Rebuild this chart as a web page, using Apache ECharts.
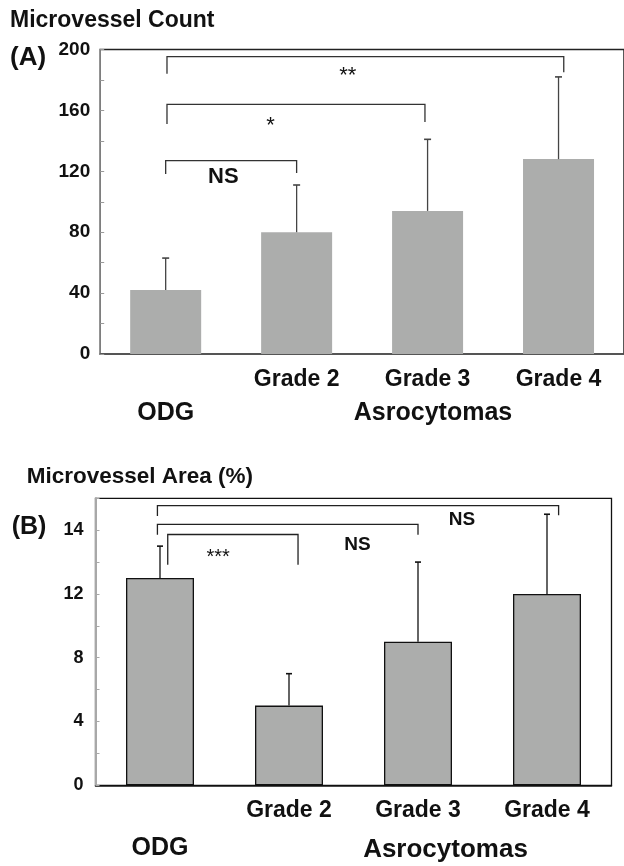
<!DOCTYPE html>
<html>
<head>
<meta charset="utf-8">
<script src="https://cdn.jsdelivr.net/npm/echarts@6/dist/echarts.min.js"></script>
<style>
html, body { margin: 0; padding: 0; background: #fff; }
#chart { width: 624px; height: 866px; }
</style>
</head>
<body>
<div id="chart"></div>
<script>
// values
var categories = ['ODG', 'Grade 2', 'Grade 3', 'Grade 4'];
var groupLabel = 'Asrocytomas';

var countMean = [42, 80, 94, 128];
var countSd = [21, 31, 47, 54];
var countTicks = [0, 40, 80, 120, 160, 200];

var areaMean = [13, 5, 9, 12];
var areaSd = [2, 2, 5, 5];
var areaTickLabels = ['0', '4', '8', '12', '14'];   // the top one is printed "14" in the figure

// brackets: [from, to, top, left leg end, right leg end] (category units / axis units)
var countBrackets = [[0, 1, 127, 118.2, 118.9], [0.01, 1.98, 164, 151, 152.4], [0.01, 3.04, 195.3, 184, 185]];
var countMarks = ['NS', '*', '**'];
var countMarkPos = [[0.44, 116.3], [0.80, 149.6], [1.39, 182.6]];

var areaBrackets = [[0.06, 1.07, 15.73, 13.84, 13.84], [-0.02, 2.0, 16.36, 15.71, 15.71], [-0.02, 3.09, 17.54, 16.89, 16.93]];
var areaMarks = ['***', 'NS', 'NS'];
var areaMarkPos = [[0.45, 14.31], [1.53, 15.06], [2.34, 16.68]];

var FONT = '"Liberation Sans", Arial, Helvetica, sans-serif';
var chart = echarts.init(document.getElementById('chart'));

function errorSeries(xi, mean, sd, color, cap) {
	return {
		type: 'custom', xAxisIndex: xi, yAxisIndex: xi / 2, z: 5, silent: true,
		data: mean.map(function (m, i) { return [i, m, m + sd[i]]; }),
		encode: { x: 0, y: [1, 2] },
		renderItem: function (params, api) {
			var lo = api.coord([api.value(0), api.value(1)]);
			var hi = api.coord([api.value(0), api.value(2)]);
			return {
				type: 'group', children: [
					{ type: 'line', shape: { x1: lo[0], y1: lo[1], x2: hi[0], y2: hi[1] }, style: { stroke: color, lineWidth: 1.3 } },
					{ type: 'line', shape: { x1: hi[0] - cap, y1: hi[1], x2: hi[0] + cap, y2: hi[1] }, style: { stroke: color, lineWidth: 1.6 } }
				]
			};
		}
	};
}

function bracketSeries(xi, brackets, color) {
	return {
		type: 'custom', xAxisIndex: xi, yAxisIndex: (xi - 1) / 2, z: 6, silent: true,
		data: brackets,
		encode: { x: [0, 1], y: [2, 3, 4] },
		renderItem: function (params, api) {
			var a = api.coord([api.value(0), api.value(3)]);
			var b = api.coord([api.value(0), api.value(2)]);
			var c = api.coord([api.value(1), api.value(2)]);
			var d = api.coord([api.value(1), api.value(4)]);
			return { type: 'polyline', shape: { points: [a, b, c, d] }, style: { stroke: color, lineWidth: 1.3, fill: null } };
		}
	};
}

function markSeries(xi, pos, marks, nsSize, starSize) {
	return {
		type: 'custom', xAxisIndex: xi, yAxisIndex: (xi - 1) / 2, z: 7, silent: true,
		data: pos,
		renderItem: function (params, api) {
			var p = api.coord([api.value(0), api.value(1)]);
			var t = marks[params.dataIndex];
			return {
				type: 'text', x: p[0], y: p[1],
				style: {
					text: t, fill: '#111', textAlign: 'center', textVerticalAlign: 'middle',
					font: t === 'NS' ? 'bold ' + nsSize + 'px ' + FONT : starSize + 'px ' + FONT
				}
			};
		}
	};
}

function catAxis(grid, lineColor, lineHeight, margin) {
	return {
		type: 'category', gridIndex: grid, data: categories,
		axisLine: { show: true, lineStyle: { color: lineColor, width: 1.5 } },
		axisTick: { show: false },
		axisLabel: {
			interval: 0, margin: margin, lineHeight: lineHeight,
			color: '#111', fontFamily: FONT,
			formatter: function (v, i) { return i === 0 ? '\n{o|' + v + '}' : '{g|' + v + '}'; },
			rich: {
				g: { fontSize: 23, fontWeight: 'bold', fontFamily: FONT, color: '#111', lineHeight: lineHeight },
				o: { fontSize: 25, fontWeight: 'bold', fontFamily: FONT, color: '#111', lineHeight: lineHeight }
			}
		}
	};
}

function hiddenAxis(grid) {
	return { type: 'value', gridIndex: grid, min: -0.5, max: 3.5, show: false };
}

chart.setOption({
	animation: false,
	grid: [
		{ left: 100.2, top: 49.5, width: 529.2, height: 304.5, show: true, borderColor: '#222', borderWidth: 1.5 },
		{ left: 95.5, top: 498.3, width: 516, height: 296, show: true, borderColor: '#111', borderWidth: 1.3 }
	],
	xAxis: [
		catAxis(0, '#555', 33, 9.5),
		hiddenAxis(0),
		catAxis(1, '#111', 36.7, 7.3),
		hiddenAxis(1)
	],
	yAxis: [
		{
			type: 'value', gridIndex: 0, min: 0, max: 200, interval: 20,
			axisLine: { show: true, onZero: false, lineStyle: { color: '#9a9a9a', width: 1.5 } },
			axisTick: { show: true, inside: true, length: 4, lineStyle: { color: '#9a9a9a' } },
			splitLine: { show: false },
			axisLabel: {
				margin: 10, color: '#111', fontSize: 19, fontWeight: 'bold', fontFamily: FONT,
				formatter: function (v) { return countTicks.indexOf(v) >= 0 ? String(v) : ''; }
			}
		},
		{
			type: 'value', gridIndex: 1, min: 0, max: 18, interval: 2,
			axisLine: { show: true, onZero: false, lineStyle: { color: '#a8a8a8', width: 2 } },
			axisTick: { show: true, inside: true, length: 4, lineStyle: { color: '#a8a8a8' } },
			splitLine: { show: false },
			axisLabel: {
				margin: 12, color: '#111', fontSize: 18, fontWeight: 'bold', fontFamily: FONT,
				formatter: function (v) { return v % 4 === 0 && areaTickLabels[v / 4] ? areaTickLabels[v / 4] : ''; }
			}
		}
	],
	graphic: [
		{ type: 'text', x: 10, y: 21, style: { text: 'Microvessel Count', font: 'bold 23px ' + FONT, fill: '#111', textVerticalAlign: 'middle' } },
		{ type: 'text', x: 10, y: 58, style: { text: '(A)', font: 'bold 26px ' + FONT, fill: '#111', textVerticalAlign: 'middle' } },
		{ type: 'text', x: 433, y: 412.7, style: { text: groupLabel, font: 'bold 25px ' + FONT, fill: '#111', textAlign: 'center', textVerticalAlign: 'middle' } },
		{ type: 'text', x: 26.7, y: 476.7, style: { text: 'Microvessel Area (%)', font: 'bold 22.5px ' + FONT, fill: '#111', textVerticalAlign: 'middle' } },
		{ type: 'text', x: 11.7, y: 526.7, style: { text: '(B)', font: 'bold 25px ' + FONT, fill: '#111', textVerticalAlign: 'middle' } },
		{ type: 'text', x: 445.5, y: 850, style: { text: groupLabel, font: 'bold 26px ' + FONT, fill: '#111', textAlign: 'center', textVerticalAlign: 'middle' } }
	],
	series: [
		{
			type: 'bar', xAxisIndex: 0, yAxisIndex: 0, barWidth: 71, data: countMean,
			itemStyle: { color: '#acadac' }
		},
		errorSeries(0, countMean, countSd, '#444', 3.5),
		bracketSeries(1, countBrackets, '#333'),
		markSeries(1, countMarkPos, countMarks, 22, 22),
		{
			type: 'bar', xAxisIndex: 2, yAxisIndex: 1, barWidth: 68, data: areaMean,
			itemStyle: { color: '#acadac', borderColor: '#111', borderWidth: 1.3 }
		},
		errorSeries(2, areaMean, areaSd, '#111', 3),
		bracketSeries(3, areaBrackets, '#222'),
		markSeries(3, areaMarkPos, areaMarks, 19, 20)
	]
});
</script>
</body>
</html>
